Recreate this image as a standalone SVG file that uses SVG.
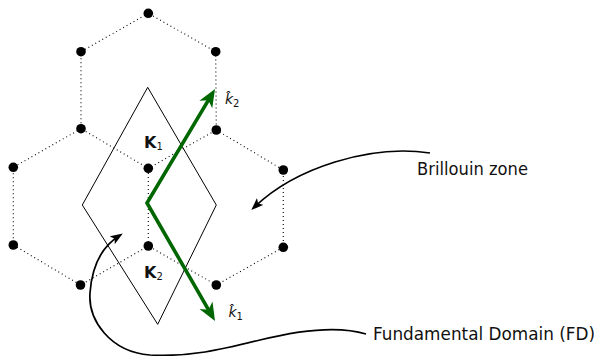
<svg xmlns="http://www.w3.org/2000/svg" width="598" height="356" viewBox="0 0 598 356">
<style>
.lat{fill:none;stroke:#000;stroke-width:1.1;stroke-dasharray:1 3}
.dot{fill:#000}
.fd{fill:none;stroke:#000;stroke-width:1}
.vec{fill:none;stroke:#006600;stroke-width:3.6;stroke-linejoin:miter;marker-start:url(#gh);marker-end:url(#gh)}
.cur{fill:none;stroke:#000;stroke-width:1.7;marker-end:url(#bh)}
.lbl{font-family:"DejaVu Sans",sans-serif;font-size:17px;fill:#111}
.K{font-family:"DejaVu Sans",sans-serif;font-size:16px;font-weight:bold;fill:#111}
.k{font-family:"DejaVu Sans",sans-serif;font-size:14px;font-style:italic;fill:#111}
.sub{font-size:10px;font-weight:normal;font-style:normal}
</style>
<defs>
<marker id="gh" markerUnits="userSpaceOnUse" markerWidth="24" markerHeight="20" refX="10" refY="10" orient="auto-start-reverse">
<path d="M20,10 L2,2.5 L7,10 L2,17.5 Z" fill="#006600"/>
</marker>
<marker id="bh" markerUnits="userSpaceOnUse" markerWidth="16" markerHeight="12" refX="8" refY="5" orient="auto">
<path d="M12.5,5 L0,0.3 L3,5 L0,9.7 Z" fill="#000"/>
</marker>
</defs>
<g id="lattice">
<path class="lat" d="M148.3,13.3 L81,51.7 L81,128.7 L148.3,168.3 L216.3,130 L215.7,51.7 Z"/>
<path class="lat" d="M81,128.7 L13.3,167.3 L13.3,245 L80.5,285 L148.3,246 L148.3,168.3"/>
<path class="lat" d="M216.3,130 L283.3,170 L283.3,247.3 L216.3,285 L148.3,246"/>
</g>
<g id="fundamental-domain">
<path class="fd" d="M147.7,87.3 L216.3,205 L157.7,324.3 L82.3,205 Z"/>
</g>
<g id="lattice-points">
<circle class="dot" cx="148.3" cy="13.3" r="4.8"/>
<circle class="dot" cx="81" cy="51.7" r="4.8"/>
<circle class="dot" cx="215.7" cy="51.7" r="4.8"/>
<circle class="dot" cx="81" cy="128.7" r="4.8"/>
<circle class="dot" cx="216.3" cy="130" r="4.8"/>
<circle class="dot" cx="13.3" cy="167.3" r="4.8"/>
<circle class="dot" cx="148.3" cy="168.3" r="4.8"/>
<circle class="dot" cx="283.3" cy="170" r="4.8"/>
<circle class="dot" cx="13.3" cy="245" r="4.8"/>
<circle class="dot" cx="148.3" cy="246" r="4.8"/>
<circle class="dot" cx="283.3" cy="247.3" r="4.8"/>
<circle class="dot" cx="80.5" cy="285" r="4.8"/>
<circle class="dot" cx="216.3" cy="285" r="4.8"/>
</g>
<g id="connectors">
<path class="vec" d="M209.9,97.6 L147,203 L210,312.3"/>
<path class="cur" d="M430,153 C370,144 295,168 254.5,207"/>
<path class="cur" d="M366,334 C340,326 300,330 260,340 C220,350 190,357 150,355 C110,352 88,320 90,293 C92,265 103,246 119,236"/>
</g>
<g id="label-K1"><text class="K" x="144" y="148.3">K<tspan class="sub" dy="2">1</tspan></text></g>
<g id="label-K2"><text class="K" x="144" y="278.3">K<tspan class="sub" dy="2">2</tspan></text></g>
<g id="label-k2"><text class="k" x="225" y="104">k̂<tspan class="sub" dy="2.5">2</tspan></text></g>
<g id="label-k1"><text class="k" x="228.5" y="317">k̂<tspan class="sub" dy="2.5">1</tspan></text></g>
<g id="label-bz"><text class="lbl" x="417" y="175" textLength="111" lengthAdjust="spacingAndGlyphs">Brillouin zone</text></g>
<g id="label-fd"><text class="lbl" x="373" y="340" textLength="222" lengthAdjust="spacingAndGlyphs">Fundamental Domain (FD)</text></g>
</svg>
